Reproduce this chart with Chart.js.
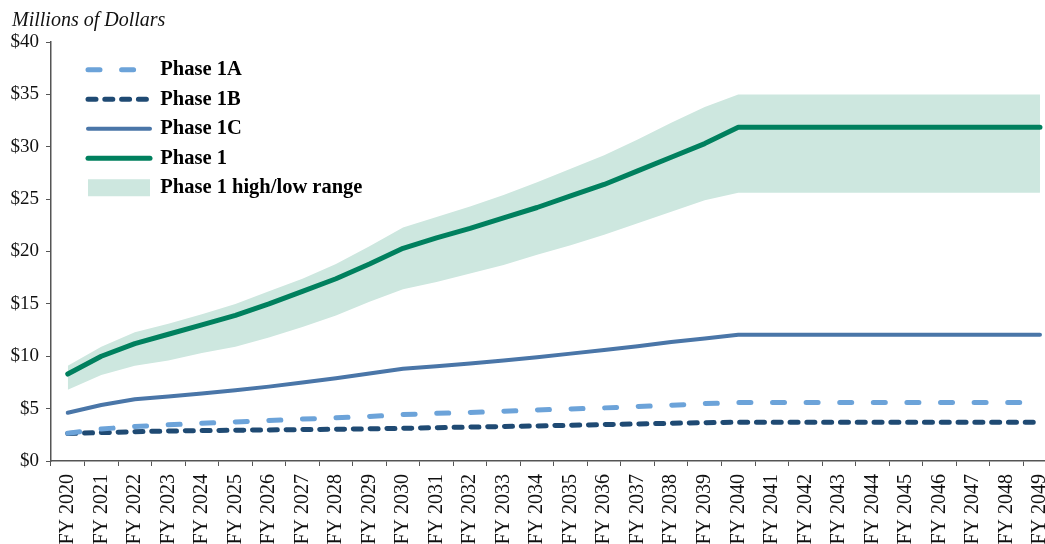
<!DOCTYPE html>
<html>
<head>
<meta charset="utf-8">
<script src="https://cdn.jsdelivr.net/npm/chart.js@4/dist/chart.umd.min.js"></script>
<style>
  html, body { margin: 0; padding: 0; background: #fff; overflow: hidden; }
  #wrap { width: 1045px; height: 544px; overflow: hidden; }
</style>
</head>
<body>
<div id="wrap"><canvas id="myChart" width="1072" height="544"></canvas></div>
<script>
// fiscal years on the x axis
const years = ['FY 2020','FY 2021','FY 2022','FY 2023','FY 2024','FY 2025','FY 2026','FY 2027','FY 2028','FY 2029',
  'FY 2030','FY 2031','FY 2032','FY 2033','FY 2034','FY 2035','FY 2036','FY 2037','FY 2038','FY 2039',
  'FY 2040','FY 2041','FY 2042','FY 2043','FY 2044','FY 2045','FY 2046','FY 2047','FY 2048','FY 2049'];

// millions of dollars
const phase1A = [2.65, 3.05, 3.3, 3.45, 3.6, 3.73, 3.86, 4.0, 4.12, 4.25, 4.43, 4.55, 4.63, 4.75, 4.87, 4.97, 5.07, 5.2, 5.32, 5.48,
  5.58, 5.58, 5.58, 5.58, 5.58, 5.58, 5.58, 5.58, 5.58, 5.58];
const phase1B = [2.62, 2.71, 2.8, 2.86, 2.9, 2.94, 2.97, 3.0, 3.03, 3.07, 3.12, 3.18, 3.24, 3.29, 3.35, 3.41, 3.48, 3.54, 3.6, 3.66,
  3.7, 3.7, 3.7, 3.7, 3.7, 3.7, 3.7, 3.7, 3.7, 3.7];
const phase1C = [4.6, 5.35, 5.9, 6.15, 6.45, 6.75, 7.1, 7.5, 7.9, 8.35, 8.8, 9.05, 9.3, 9.6, 9.9, 10.25, 10.6, 10.95, 11.35, 11.7,
  12.05, 12.05, 12.05, 12.05, 12.05, 12.05, 12.05, 12.05, 12.05, 12.05];
const phase1 = [8.3, 10.0, 11.2, 12.1, 13.0, 13.9, 15.0, 16.2, 17.4, 18.8, 20.3, 21.3, 22.2, 23.2, 24.2, 25.3, 26.4, 27.7, 29.0, 30.3,
  31.85, 31.85, 31.85, 31.85, 31.85, 31.85, 31.85, 31.85, 31.85, 31.85];
const phase1High = [9.1, 10.9, 12.3, 13.1, 14.0, 15.0, 16.2, 17.4, 18.8, 20.5, 22.3, 23.3, 24.3, 25.4, 26.6, 27.9, 29.2, 30.7, 32.3, 33.8,
  35.0, 35.0, 35.0, 35.0, 35.0, 35.0, 35.0, 35.0, 35.0, 35.0];
const phase1Low = [6.8, 8.2, 9.1, 9.6, 10.3, 10.9, 11.8, 12.8, 13.9, 15.2, 16.4, 17.1, 17.9, 18.7, 19.7, 20.6, 21.6, 22.7, 23.8, 24.9,
  25.6, 25.6, 25.6, 25.6, 25.6, 25.6, 25.6, 25.6, 25.6, 25.6];

const yTicks = [0, 5, 10, 15, 20, 25, 30, 35, 40];

const serif = '"Liberation Serif", "DejaVu Serif", serif';
const bandColor = '#cde7df';

// y axis title drawn in the top left corner
const unitTitle = {
  id: 'unitTitle',
  afterDraw(chart) {
    const c = chart.ctx;
    c.save();
    c.font = 'italic 20px ' + serif;
    c.fillStyle = '#111';
    c.textBaseline = 'alphabetic';
    c.fillText('Millions of Dollars', 12, 26);
    c.restore();
  }
};

// put the legend box in the upper left of the plot
const legendSpot = {
  id: 'legendSpot',
  afterLayout(chart) {
    chart.legend.left = 79;
    chart.legend.top = 50.5;
  }
};

const ctx = document.getElementById('myChart');
const myChart = new Chart(ctx, {
  type: 'line',
  data: {
    labels: years,
    datasets: [
      {
        label: 'Phase 1A',
        data: phase1A,
        borderColor: '#6ca3d9',
        borderWidth: 5,
        borderDash: [12, 21.6],
        borderCapStyle: 'round',
        pointRadius: 0,
        fill: false
      },
      {
        label: 'Phase 1B',
        data: phase1B,
        borderColor: '#1f4a73',
        borderWidth: 5,
        borderDash: [8, 8.8],
        borderCapStyle: 'round',
        pointRadius: 0,
        fill: false
      },
      {
        label: 'Phase 1C',
        data: phase1C,
        borderColor: '#4a76a8',
        borderWidth: 4,
        borderCapStyle: 'round',
        pointRadius: 0,
        fill: false
      },
      {
        label: 'Phase 1',
        data: phase1,
        borderColor: '#00805e',
        borderWidth: 5,
        borderCapStyle: 'round',
        pointRadius: 0,
        fill: false
      },
      {
        label: 'Phase 1 high/low range',
        data: phase1High,
        borderWidth: 0,
        borderColor: bandColor,
        backgroundColor: bandColor,
        pointRadius: 0,
        fill: '+1'
      },
      {
        label: 'low',
        data: phase1Low,
        borderWidth: 0,
        borderColor: bandColor,
        pointRadius: 0,
        fill: false
      }
    ]
  },
  options: {
    responsive: false,
    animation: false,
    devicePixelRatio: 1,
    layout: { padding: { top: 42, right: 1, left: 0, bottom: 0 } },
    elements: { line: { tension: 0, borderJoinStyle: 'round' } },
    plugins: {
      tooltip: { enabled: false },
      legend: {
        position: 'chartArea',
        align: 'start',
        labels: {
          usePointStyle: true,
          pointStyleWidth: 62,
          boxHeight: 17,
          padding: 9,
          color: '#111',
          font: { family: serif, size: 20.5, weight: 'bold' },
          generateLabels(chart) {
            const ds = chart.data.datasets;
            return ds.slice(0, 5).map((d, i) => ({
              text: d.label,
              datasetIndex: i,
              pointStyle: i == 4 ? 'rect' : 'line',
              fillStyle: i == 4 ? bandColor : d.borderColor,
              strokeStyle: d.borderColor,
              lineWidth: i == 4 ? 0 : d.borderWidth,
              lineDash: d.borderDash || [],
              lineCap: 'round',
              hidden: false
            }));
          }
        }
      }
    },
    scales: {
      x: {
        offset: true,
        grid: { display: true, offset: true, drawOnChartArea: false, drawTicks: true, tickLength: 5, color: '#555' },
        border: { color: '#555', width: 1.5 },
        ticks: {
          autoSkip: false,
          maxRotation: 90,
          minRotation: 90,
          padding: 8,
          color: '#111',
          font: { family: serif, size: 20 }
        },
        afterFit(scale) { scale.height = 83; }
      },
      y: {
        min: 0,
        max: 40,
        afterBuildTicks(scale) { scale.ticks = yTicks.map(v => ({ value: v })); },
        grid: { display: true, drawOnChartArea: false, drawTicks: true, tickLength: 5, color: '#555' },
        border: { color: '#555', width: 1.5 },
        ticks: {
          padding: 7,
          color: '#111',
          font: { family: serif, size: 19 },
          callback: v => '$' + v
        },
        afterFit(scale) { scale.width = 51; }
      }
    }
  },
  plugins: [unitTitle, legendSpot]
});
</script>
</body>
</html>
